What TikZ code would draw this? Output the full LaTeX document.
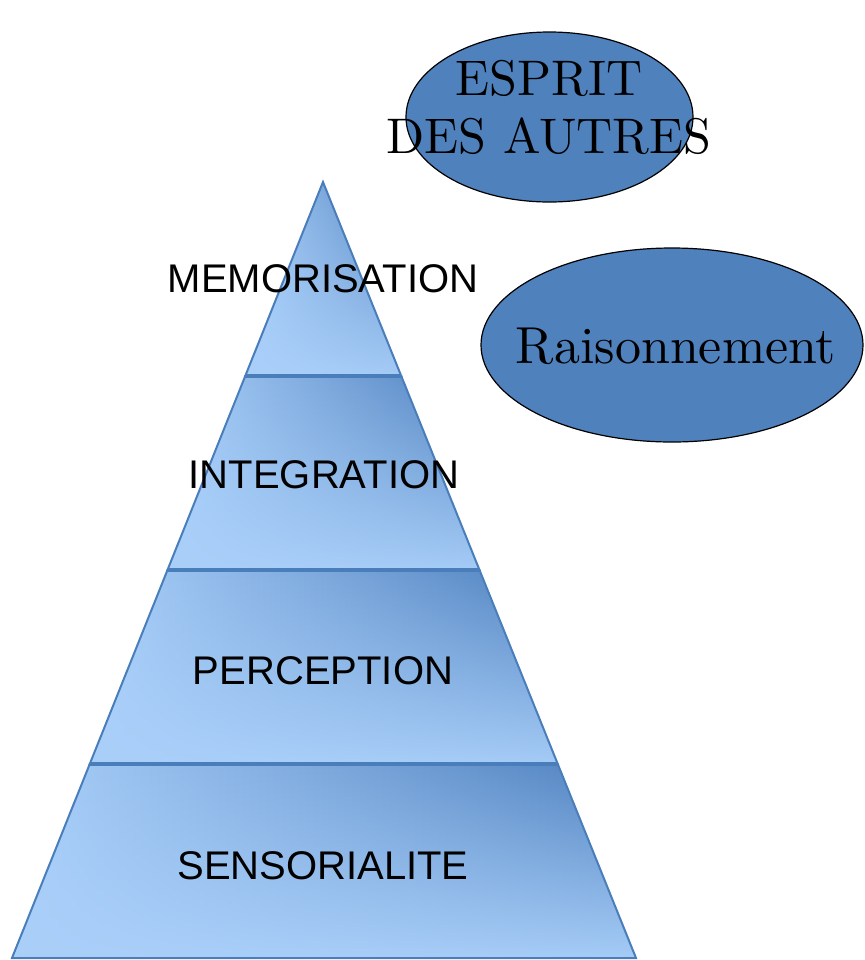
\documentclass[tikz,border=0pt]{standalone}
\usepackage{fontspec}
\newfontfamily\labelfont{Liberation Sans}
\newfontfamily\ovalfont{lmroman10-regular.otf}
\usetikzlibrary{calc,shapes.geometric,fadings}
\definecolor{pyrlight}{RGB}{170,208,250}
\definecolor{pyrdark}{RGB}{78,128,190}
\definecolor{pyrline}{RGB}{74,126,187}
\definecolor{ovalfill}{RGB}{79,129,189}
\tikzfading[name=fadeup, top color=transparent!100, bottom color=transparent!5]

\begin{document}
\begin{tikzpicture}[x=0.5pt, y=-0.5pt,
	band/.style={left color=pyrlight, right color=pyrdark,
		postaction={fill=pyrlight, path fading=fadeup},
		postaction={draw=pyrline, line width=1pt}},
	divider/.style={draw=pyrline, line width=2.2pt},
	level/.style={font=\labelfont\fontsize{20}{24}\selectfont, text=black, anchor=base, inner sep=0pt},
	oval/.style={ellipse, draw=black, fill=ovalfill, line width=0.6pt, inner sep=0pt},
	ovaltext/.style={font=\ovalfont\fontsize{25}{29}\selectfont, text=black, inner sep=0pt, align=center}]
	\useasboundingbox (0,0) rectangle (864,960);
	\coordinate (apex) at (323,182);
	\coordinate (bl) at (12,958);
	\coordinate (br) at (636,958);
	% pyramid levels
	\path[band] (apex) -- ($(apex)!.25!(br)$) -- ($(apex)!.25!(bl)$) -- cycle;
	\path[band] ($(apex)!.25!(bl)$) -- ($(apex)!.25!(br)$) -- ($(apex)!.5!(br)$) -- ($(apex)!.5!(bl)$) -- cycle;
	\path[band] ($(apex)!.5!(bl)$) -- ($(apex)!.5!(br)$) -- ($(apex)!.75!(br)$) -- ($(apex)!.75!(bl)$) -- cycle;
	\path[band] ($(apex)!.75!(bl)$) -- ($(apex)!.75!(br)$) -- (br) -- (bl) -- cycle;
	\foreach \t in {.25,.5,.75}
		\draw[divider] ($(apex)!\t!(bl)$) -- ($(apex)!\t!(br)$);
	\node[level] (memo) at (323,292) {MEMORISATION};
	\node[level] (integ) at (324,488) {INTEGRATION};
	\node[level] (percep) at (323,684) {PERCEPTION};
	\node[level] (senso) at (323,879) {SENSORIALITE};
	% ovals
	\node[oval, minimum width=143.5pt, minimum height=85pt] (esprit) at (549.5,117) {};
	\node[ovaltext] (esprittxt) at (549,107) {ESPRIT\\DES AUTRES};
	\node[oval, minimum width=191pt, minimum height=97pt] (raison) at (672,345) {};
	\node[ovaltext, anchor=base, font=\ovalfont\fontsize{26}{30}\selectfont] (raisontxt) at (676,363) {Raisonnement};
\end{tikzpicture}
\end{document}
